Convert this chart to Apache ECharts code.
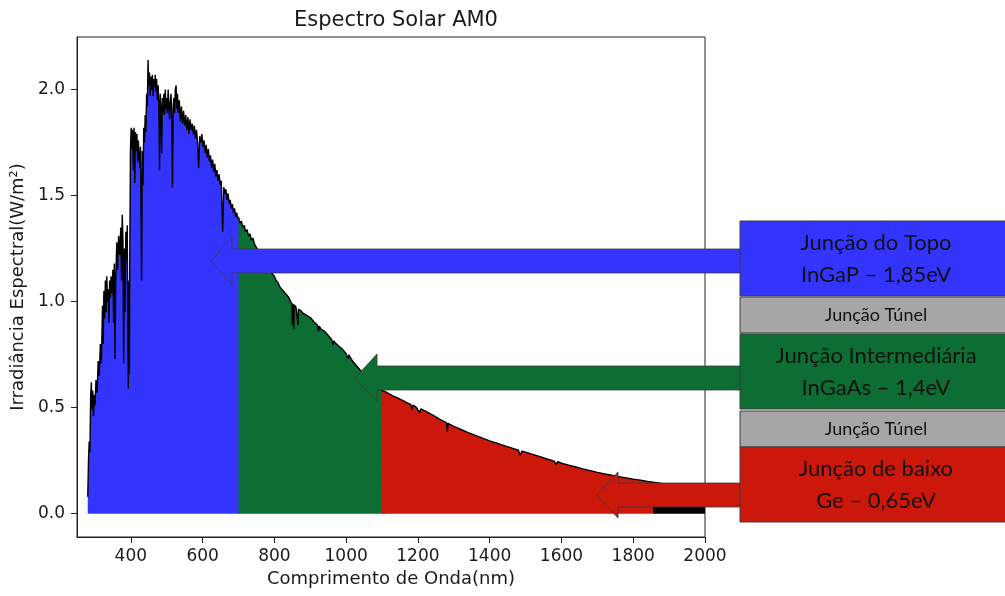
<!DOCTYPE html>
<html><head><meta charset="utf-8">
<script src="https://cdn.jsdelivr.net/npm/echarts@6/dist/echarts.min.js"></script>
<style>html,body{margin:0;padding:0;background:#fff;} #c{width:1005px;height:596px;}</style>
</head><body><div id="c"></div>
<script>
// ---- data (AM0 solar spectrum) ----
const wavelength = [
  280,282,284,286,288,290,292,294,296,298,300,303,306,309,312,315,318,321,323,325,327,329,331,333,335,337,339,341,343,345,348,350,352,354,356,358,361,363,366,369,372,374,376,378,380,382,384,386,388,390,391,393,395,396,397,399,
  401,403,405,407,409,411,413,415,417,419,421,423,425,427,430,432,434,436,438,440,442,444,446,448,450,452,454,456,458,460,462,464,466,468,470,472,474,476,478,480,482,484,486,488,490,492,494,496,498,
  500,502,504,506,508,510,512,514,516,518,520,522,524,526,528,530,532,535,538,541,544,547,550,553,556,559,562,565,568,571,574,577,580,583,586,589,592,595,598,
  601,604,607,610,613,616,619,622,625,628,631,634,637,640,643,646,649,652,656,659,662,665,668,671,674,677,680,683,686,689,692,695,698,
  700,704,708,712,716,720,724,728,732,736,740,745,750,755,760,765,770,775,780,785,790,795,
  800,805,810,815,820,825,830,835,840,845,849,850,851,854,855,860,865,866,867,875,880,885,890,895,
  900,910,920,923,925,930,940,950,960,963,965,970,980,990,
  1000,1005,1008,1010,1020,1030,1040,1050,1060,1070,1080,1090,
  1100,1110,1120,1130,1140,1150,1160,1170,1180,1183,1186,1195,1200,1205,1208,1220,1240,1260,1280,1282,1284,
  1300,1320,1340,1360,1380,1400,1420,1440,1460,1480,1485,1490,1500,1520,1540,1560,1580,1585,1590,
  1600,1620,1640,1660,1680,1700,1720,1740,1760,1780,1800,1820,1840,1855,1860,1880,1900,1920,1940,1960,1980,2000
];
const irradiance = [
  0.08,0.25,0.34,0.29,0.55,0.62,0.49,0.58,0.46,0.56,0.51,0.63,0.57,0.72,0.65,0.80,0.71,0.98,0.80,1.05,0.92,1.10,0.95,1.12,1.00,1.06,0.90,1.10,1.02,1.12,1.04,1.15,0.90,1.18,0.73,1.12,1.28,1.15,1.31,1.22,1.35,1.10,1.41,1.30,0.71,1.25,0.95,1.33,1.20,1.36,1.05,0.59,1.10,0.66,1.20,1.72,
  1.82,1.72,1.81,1.62,1.82,1.56,1.80,1.71,1.79,1.66,1.76,1.69,1.63,1.73,1.10,1.71,1.55,1.82,1.75,1.88,1.80,1.98,1.92,2.14,2.02,2.08,1.97,2.06,2.00,2.07,1.97,2.05,2.01,2.07,1.99,2.05,1.95,2.02,1.94,1.62,1.98,1.91,1.70,1.96,1.89,1.98,1.88,2.00,1.91,
  1.96,1.89,2.00,1.93,1.86,1.94,1.98,1.87,1.54,1.92,1.96,1.89,2.00,2.02,1.91,1.98,1.89,1.95,1.85,1.92,1.84,1.90,1.83,1.88,1.81,1.87,1.79,1.86,1.81,1.84,1.79,1.83,1.77,1.81,1.75,1.63,1.78,1.75,1.79,
  1.73,1.76,1.70,1.74,1.68,1.72,1.66,1.69,1.63,1.67,1.61,1.65,1.59,1.62,1.57,1.60,1.55,1.57,1.33,1.54,1.51,1.53,1.48,1.51,1.46,1.48,1.44,1.46,1.42,1.44,1.40,1.42,1.39,
  1.40,1.37,1.38,1.35,1.36,1.33,1.34,1.31,1.32,1.29,1.30,1.27,1.27,1.24,1.24,1.21,1.21,1.18,1.18,1.15,1.15,1.13,
  1.12,1.10,1.09,1.07,1.06,1.05,1.04,1.03,1.02,1.00,0.99,0.89,0.99,0.87,0.985,0.975,0.97,0.89,0.965,0.955,0.945,0.94,0.935,0.93,
  0.925,0.905,0.89,0.86,0.885,0.87,0.86,0.84,0.82,0.795,0.815,0.805,0.79,0.775,
  0.755,0.73,0.75,0.74,0.715,0.695,0.675,0.66,0.64,0.625,0.61,0.595,
  0.58,0.575,0.565,0.556,0.548,0.540,0.532,0.522,0.515,0.490,0.512,0.503,0.497,0.476,0.494,0.485,0.466,0.446,0.428,0.385,0.426,
  0.412,0.397,0.382,0.369,0.356,0.343,0.332,0.321,0.310,0.299,0.276,0.295,0.290,0.280,0.269,0.258,0.248,0.233,0.245,
  0.238,0.229,0.220,0.211,0.203,0.195,0.188,0.181,0.175,0.169,0.163,0.158,0.152,0.148,0.147,0.142,0.138,0.133,0.128,0.124,0.120,0.116
];
const bandEdges = [280, 700, 1100, 1855, 2000];   // nm: top / middle / bottom junction / tail
const xTicks = [400, 600, 800, 1000, 1200, 1400, 1600, 1800, 2000];
const yTicks = [0, 0.5, 1.0, 1.5, 2.0];
const titleText = 'Espectro Solar AM0';
const xName = 'Comprimento de Onda(nm)';
const yName = 'Irradiância Espectral(W/m²)';
const junctions = [
  ['Junção do Topo', 'InGaP – 1,85eV'],
  ['Junção Túnel'],
  ['Junção Intermediária', 'InGaAs – 1,4eV'],
  ['Junção Túnel'],
  ['Junção de baixo', 'Ge – 0,65eV']
];

// ---- styles ----
const BLUE = '#3434ff', GREEN = '#0c6e33', RED = '#cc170b', GRAY = '#a6a6a6';
const bandColors = [BLUE, GREEN, RED, '#000000'];
const TXT = '#1a1a1a';
const MPL = 'DejaVu Sans';

const points = wavelength.map((w, i) => [w, irradiance[i]]);
// each band also keeps the first sample past its upper edge, so the next band
// (drawn on top) overlaps it and no white seam appears at the boundary
const bandSeries = bandColors.map((c, k) => {
  const lo = bandEdges[k], hi = bandEdges[k + 1];
  const inBand = points.filter(p => p[0] >= lo && p[0] <= hi);
  const next = points.find(p => p[0] > hi);
  if (next) inBand.push(next);
  return {
    type: 'line', data: inBand,
    symbol: 'none', showSymbol: false, silent: true,
    lineStyle: { width: 0, opacity: 0 },
    areaStyle: { color: c, opacity: 1 },
    z: 2
  };
});
const lineSeries = {
  type: 'line', data: points, symbol: 'none', showSymbol: false, silent: true,
  lineStyle: { color: '#000', width: 1.4 }, z: 3
};

// annotation layout (pixels)
const boxX = 740, boxW = 275, textCX = 876;
const boxes = [
  { y: 221, h: 75, fill: BLUE, big: true },
  { y: 297, h: 36, fill: GRAY, big: false },
  { y: 334, h: 75, fill: GREEN, big: true },
  { y: 411, h: 36, fill: GRAY, big: false },
  { y: 447, h: 75, fill: RED, big: true }
];
const arrows = [
  { tip: 211, base: 232, yc: 261, half: 12, head: 24, fill: BLUE },
  { tip: 355, base: 377, yc: 378, half: 12, head: 24, fill: GREEN },
  { tip: 597, base: 618, yc: 495, half: 12, head: 23, fill: RED }
];
const graphics = [];
arrows.forEach(a => {
  graphics.push({
    type: 'polygon', z: 100, silent: true,
    shape: { points: [[a.tip, a.yc], [a.base, a.yc - a.head], [a.base, a.yc - a.half], [boxX, a.yc - a.half],
                      [boxX, a.yc + a.half], [a.base, a.yc + a.half], [a.base, a.yc + a.head]] },
    style: { fill: a.fill, stroke: '#3a3a3a', lineWidth: 0.8 }
  });
});
boxes.forEach((b, i) => {
  graphics.push({
    type: 'rect', z: 101, silent: true,
    shape: { x: boxX, y: b.y, width: boxW, height: b.h },
    style: { fill: b.fill, stroke: '#3f3f3f', lineWidth: 1 }
  });
  const lines = junctions[i];
  lines.forEach((t, j) => {
    const cy = b.big ? b.y + 22 + j * 32 : b.y + b.h / 2;
    graphics.push({
      type: 'text', z: 102, silent: true,
      style: { text: t, x: textCX, y: cy, align: 'center', verticalAlign: 'middle',
               fontFamily: 'Lato', fontSize: b.big ? 22 : 18, fill: '#111' }
    });
  });
});

const chart = echarts.init(document.getElementById('c'), null, { renderer: 'canvas' });
chart.setOption({
  animation: false,
  backgroundColor: '#fff',
  title: {
    text: titleText, left: 391, top: 5, textAlign: 'center',
    textStyle: { fontFamily: MPL, fontSize: 21, fontWeight: 'normal', color: TXT }
  },
  grid: { left: 77, right: 300, top: 37, bottom: 59, show: true, borderColor: '#222', borderWidth: 1, backgroundColor: 'transparent' },
  xAxis: {
    type: 'value', min: 250, max: 2000,
    name: xName, nameLocation: 'middle', nameGap: 31,
    nameTextStyle: { fontFamily: MPL, fontSize: 18, color: TXT },
    axisLine: { show: true, onZero: false, lineStyle: { color: '#222', width: 1 } },
    axisTick: { show: true, length: 6, customValues: xTicks, lineStyle: { color: '#222' } },
    axisLabel: { customValues: xTicks, fontFamily: MPL, fontSize: 17, color: TXT, margin: 11,
                 formatter: v => String(v) },
    splitLine: { show: false }
  },
  yAxis: {
    type: 'value', min: -0.11, max: 2.248,
    name: yName, nameLocation: 'middle', nameGap: 47,
    nameTextStyle: { fontFamily: MPL, fontSize: 18, color: TXT },
    axisLine: { show: true, onZero: false, lineStyle: { color: '#222', width: 1 } },
    axisTick: { show: true, length: 6, customValues: yTicks, lineStyle: { color: '#222' } },
    axisLabel: { customValues: yTicks, fontFamily: MPL, fontSize: 17, color: TXT, margin: 12,
                 formatter: v => v.toFixed(1) },
    splitLine: { show: false }
  },
  series: [...bandSeries, lineSeries],
  graphic: graphics
});
</script>
</body></html>
